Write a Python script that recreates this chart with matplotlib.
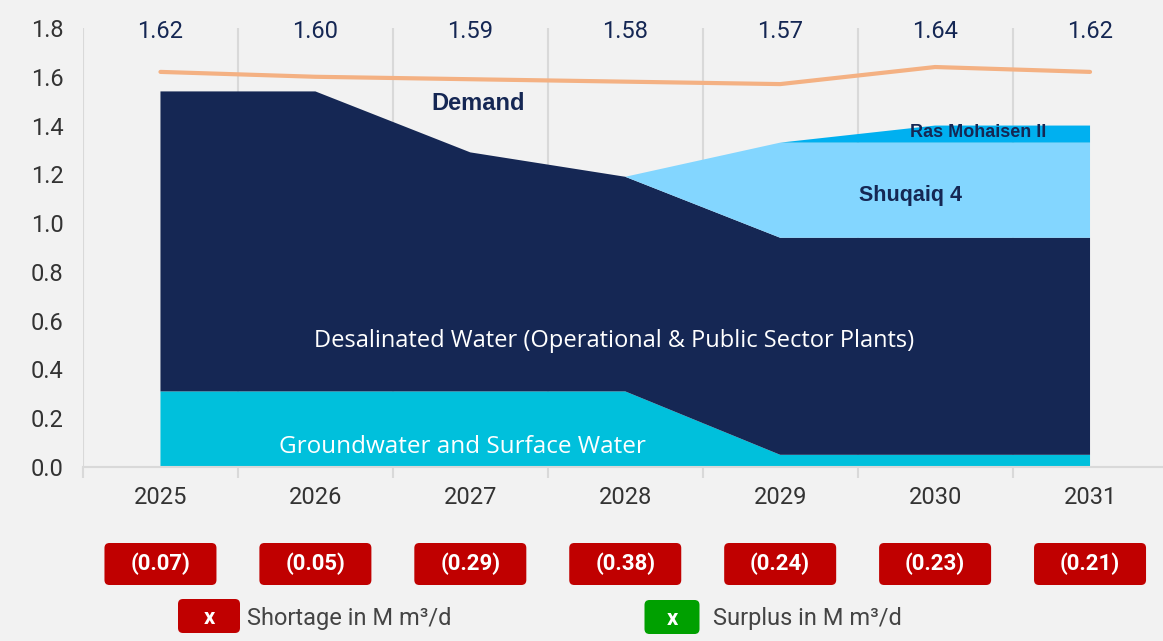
import numpy as np
import matplotlib
matplotlib.use("Agg")
import matplotlib.pyplot as plt
from matplotlib.patches import FancyBboxPatch

years = ["2025", "2026", "2027", "2028", "2029", "2030", "2031"]
groundwater = [0.31, 0.31, 0.31, 0.31, 0.05, 0.05, 0.05]
desalinated = [1.23, 1.23, 0.98, 0.88, 0.89, 0.89, 0.89]
shuqaiq4 = [0.0, 0.0, 0.0, 0.0, 0.39, 0.39, 0.39]
ras_mohaisen = [0.0, 0.0, 0.0, 0.0, 0.0, 0.07, 0.07]
demand = [1.62, 1.60, 1.59, 1.58, 1.57, 1.64, 1.62]
shortage = ["(0.07)", "(0.05)", "(0.29)", "(0.38)", "(0.24)", "(0.23)", "(0.21)"]

navy = "#152754"
bg = "#F2F2F2"
grid_c = "#D9D9D9"
plt.rcParams["font.family"] = ["Roboto", "DejaVu Sans"]

W, H = 1163, 641
fig = plt.figure(figsize=(W / 100, H / 100), dpi=100, facecolor=bg)
ax = fig.add_axes([83 / W, (H - 467) / H, (1167.5 - 83) / W, (467 - 28) / H])
ax.set_facecolor(bg)

x = np.arange(len(years))
ax.stackplot(x, groundwater, desalinated, shuqaiq4, ras_mohaisen,
             colors=["#00C0DC", navy, "#83D6FF", "#00B0F0"], linewidth=0)
ax.plot(x, demand, color="#F4B183", lw=3, solid_capstyle="round", zorder=3)

ax.set_xlim(-0.5, len(years) - 0.5)
ax.set_ylim(0, 1.8)
ax.set_yticks(np.arange(0, 1.81, 0.2))
ax.set_yticklabels([f"{v:.1f}" for v in np.arange(0, 1.81, 0.2)])
ax.set_xticks(x)
ax.set_xticklabels(years)
ax.set_xticks(np.arange(-0.5, len(years)), minor=True)
ax.tick_params(axis="x", which="major", length=0, pad=14, labelsize=17, colors="#333333")
ax.tick_params(axis="x", which="minor", length=8, width=1.5, color=grid_c)
ax.tick_params(axis="y", length=0, pad=14, labelsize=17, colors="#333333")
for s in ["top", "right", "left"]:
    ax.spines[s].set_visible(False)
ax.spines["bottom"].set_color(grid_c)
ax.spines["bottom"].set_linewidth(1.5)
for b in np.arange(-0.5, len(years)):
    ax.axvline(b, color=grid_c, lw=1.5, zorder=0)

for i, d in enumerate(demand):
    ax.text(i, 1.785, f"{d:.2f}", ha="center", va="center", fontsize=17, color=navy)

ax.text(2.05, 1.49, "Demand", ha="center", va="center", fontsize=17, fontweight="bold", color=navy,
        family=["Liberation Sans", "DejaVu Sans"])
ax.text(5.28, 1.37, "Ras Mohaisen II", ha="center", va="center", fontsize=13, fontweight="bold", color=navy,
        family=["Liberation Sans", "DejaVu Sans"])
ax.text(4.84, 1.115, "Shuqaiq 4", ha="center", va="center", fontsize=15.5, fontweight="bold", color=navy,
        family=["Liberation Sans", "DejaVu Sans"])
ax.text(2.93, 0.515, "Desalinated Water (Operational & Public Sector Plants)", ha="center", va="center",
        fontsize=17, color="white", family=["Open Sans", "DejaVu Sans"])
ax.text(1.95, 0.08, "Groundwater and Surface Water", ha="center", va="center",
        fontsize=17.5, color="white", family=["Open Sans", "DejaVu Sans"])

# overlay in pixel coordinates for the shortage boxes and legend
ov = fig.add_axes([0, 0, 1, 1], zorder=5)
ov.set_xlim(0, W)
ov.set_ylim(H, 0)
ov.axis("off")

def box(cx, cy, w, h, color):
    ov.add_patch(FancyBboxPatch((cx - w / 2, cy - h / 2), w, h,
                                boxstyle="round,pad=0,rounding_size=5", fc=color, ec="none"))

for i, s in enumerate(shortage):
    cx = ax.transData.transform((i, 0))[0]
    box(cx, 564, 112, 42, "#C00000")
    ov.text(cx, 564, s, ha="center", va="center", fontsize=16, fontweight="bold", color="white")

box(209, 616, 62, 34, "#C00000")
ov.text(209, 618, "x", ha="center", va="center", fontsize=16, fontweight="bold", color="white")
ov.text(247, 618, "Shortage in M m\u00b3/d", ha="left", va="center", fontsize=17, color="#444444")
box(672, 617, 55, 34, "#00A000")
ov.text(672, 619, "x", ha="center", va="center", fontsize=16, fontweight="bold", color="white")
ov.text(713, 618, "Surplus in M m\u00b3/d", ha="left", va="center", fontsize=17, color="#444444")

fig.savefig("out.png", dpi=100, facecolor=bg)
